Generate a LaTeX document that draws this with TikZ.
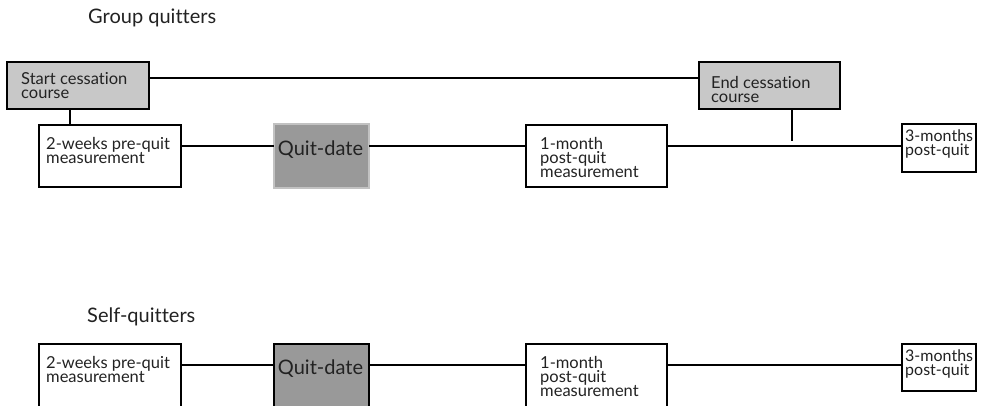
\documentclass[tikz,border=0pt]{standalone}
\usepackage{fontspec}
\setmainfont{Lato}[Ligatures=NoCommon]
\definecolor{lightbox}{HTML}{C8C8C8}
\definecolor{quitfill}{HTML}{999999}
\definecolor{txt}{HTML}{222222}
\tikzset{
  box/.style={draw=black, line width=1.2pt, fill=white, anchor=north west, inner sep=0pt, outer sep=0pt},
  course/.style={box, fill=lightbox},
  quitbox/.style={box, fill=quitfill},
  small/.style={anchor=north west, inner sep=0pt, align=left, text=txt, font=\fontsize{16.5}{14.2}\selectfont},
  tiny/.style={small, font=\fontsize{16}{14}\selectfont},
  big/.style={anchor=center, inner sep=0pt, text=txt, font=\fontsize{20}{20}\selectfont},
  title/.style={anchor=base west, inner sep=0pt, text=txt, font=\fontsize{20}{20}\selectfont},
  conn/.style={line width=1.3pt},
}
\begin{document}
\begin{tikzpicture}[x=1pt,y=-1pt]
\clip (0,0) rectangle (984,406);
\fill[white] (0,0) rectangle (984,406);

% ---------- Group quitters ----------
\node[title] (t1) at (88,24) {Group quitters};

\node[course, minimum width=142, minimum height=47] (start) at (7,62) {};
\node[small] (starttxt) at (21,72) {Start cessation\\course};
\node[course, minimum width=141, minimum height=47] (end) at (699,62) {};
\node[small] (endtxt) at (711,76) {End cessation\\course};

\node[box, minimum width=142, minimum height=62] (pre1) at (39,125) {};
\node[small] (pre1txt) at (46,137) {2-weeks pre-quit\\measurement};
\node[quitbox, draw=quitfill!60!white, minimum width=95, minimum height=64] (quit1) at (274,124) {};
\node[big] (quit1txt) at (320.5,150) {Quit-date};
\node[box, minimum width=141, minimum height=62] (post1) at (526,125) {};
\node[small] (post1txt) at (540,137) {1-month\\post-quit\\measurement};
\node[box, minimum width=74, minimum height=48] (three1) at (902,124) {};
\node[tiny] (three1txt) at (905,130) {3-months\\post-quit};

\coordinate (endtick) at (792,141);

\draw[conn] ([yshift=7.5pt]start.east) -- ([yshift=7.5pt]end.west);
\draw[conn] (start.south -| 70,0) -- (pre1.north -| 70,0);
\draw[conn] ([yshift=10pt]pre1.east) -- ([yshift=10pt]quit1.west);
\draw[conn] ([yshift=10pt]quit1.east) -- ([yshift=10pt]post1.west);
\draw[conn] ([yshift=10pt]post1.east) -- ([yshift=2pt]three1.west);
\draw[conn] (end.south -| endtick) -- (endtick);

% ---------- Self-quitters ----------
\node[title] (t2) at (87,322) {Self-quitters};

\node[box, minimum width=142, minimum height=80] (pre2) at (39,344) {};
\node[small] (pre2txt) at (46,356) {2-weeks pre-quit\\measurement};
\node[quitbox, minimum width=95, minimum height=80] (quit2) at (274,344) {};
\node[big] (quit2txt) at (320.5,369) {Quit-date};
\node[box, minimum width=141, minimum height=80] (post2) at (526,344) {};
\node[small] (post2txt) at (540,356) {1-month\\post-quit\\measurement};
\node[box, minimum width=74, minimum height=47] (three2) at (902,344) {};
\node[tiny] (three2txt) at (905,350) {3-months\\post-quit};

\draw[conn] ([yshift=19pt]pre2.east) -- ([yshift=19pt]quit2.west);
\draw[conn] ([yshift=19pt]quit2.east) -- ([yshift=19pt]post2.west);
\draw[conn] ([yshift=19pt]post2.east) -- ([yshift=2.5pt]three2.west);
\end{tikzpicture}
\end{document}
